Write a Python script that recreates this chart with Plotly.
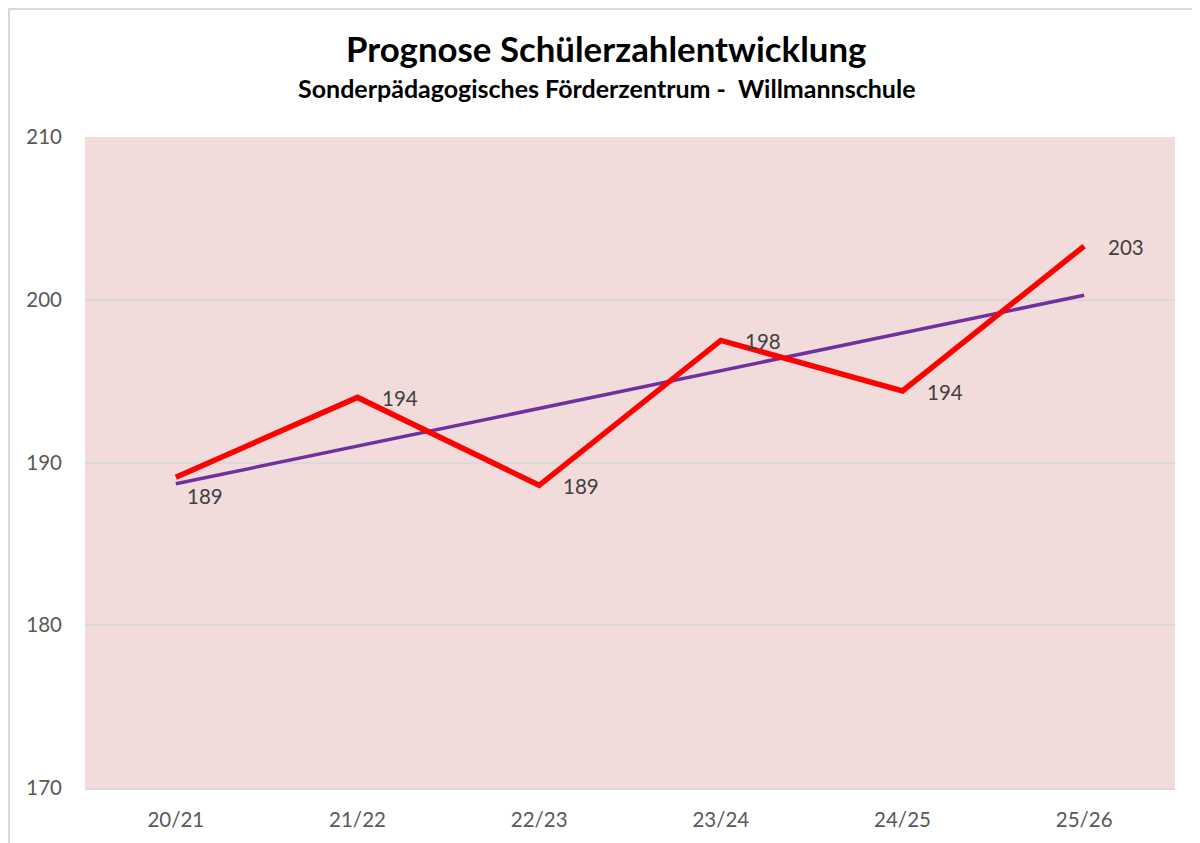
import numpy as np
import plotly.graph_objects as go

categories = ["20/21", "21/22", "22/23", "23/24", "24/25", "25/26"]
students = [189.1, 194.0, 188.6, 197.5, 194.4, 203.3]
labels = ["189", "194", "189", "198", "194", "203"]
y_ticks = [170, 180, 190, 200, 210]

x_idx = np.arange(len(categories))
slope, intercept = np.polyfit(x_idx, students, 1)
trend = [intercept + slope * i for i in x_idx]

FONT = "Lato, Open Sans, sans-serif"

# page offset (body margin) of 8px is compensated in margins
L, T, R, B = 77, 129, 33, 63
PW = 1200 - L - R
PH = 843 - T - B

fig = go.Figure()
fig.add_trace(go.Scatter(
    x=categories, y=trend, mode="lines",
    line=dict(color="#7030a0", width=3.5), hoverinfo="skip", showlegend=False,
))
fig.add_trace(go.Scatter(
    x=categories, y=students, mode="lines",
    line=dict(color="#ff0000", width=5.5), hoverinfo="skip", showlegend=False,
))

annotations = []
for i, (c, v, t) in enumerate(zip(categories, students, labels)):
    if i == 0:
        xs, ys = 9, -19
    else:
        xs, ys = 22, -1
    annotations.append(dict(
        x=c, y=v, text=t, showarrow=False, xanchor="left", yanchor="middle",
        xshift=xs, yshift=ys, font=dict(family=FONT, size=20.5, color="#404040"),
    ))

title_x = (598 - L) / PW
annotations.append(dict(
    xref="paper", yref="paper", x=title_x, y=1, yanchor="middle",
    xanchor="center", showarrow=False, yshift=89,
    text="<b>Prognose Schülerzahlentwicklung</b>",
    font=dict(family=FONT, size=34.8, color="#000000"),
))
annotations.append(dict(
    xref="paper", yref="paper", x=title_x, y=1, yanchor="middle",
    xanchor="center", showarrow=False, yshift=49,
    text="<b>Sonderpädagogisches Förderzentrum -  Willmannschule</b>",
    font=dict(family=FONT, size=25, color="#000000"),
))

fig.update_layout(
    width=1200, height=843,
    margin=dict(l=L, r=R, t=T, b=B),
    paper_bgcolor="#ffffff", plot_bgcolor="#f2dcdb",
    annotations=annotations,
    shapes=[dict(
        type="rect", xref="paper", yref="paper",
        x0=(1 - L) / PW, x1=(1230 - L) / PW,
        y0=-(900 - (843 - B)) / PH, y1=(843 - B - 1) / PH,
        line=dict(color="#d9d9d9", width=2), layer="below",
    )],
)
fig.update_xaxes(
    type="category", range=[-0.5, 5.5], showgrid=False,
    showline=True, linecolor="#d9d9d9", linewidth=2,
    ticks="", ticklabelstandoff=12,
    tickfont=dict(family=FONT, size=20.5, color="#595959"),
)
fig.update_yaxes(
    range=[170, 210], tickvals=y_ticks, showgrid=True, gridcolor="#d9d9d9",
    gridwidth=1.5, zeroline=False, showline=False, ticks="",
    ticklabelstandoff=22,
    tickfont=dict(family=FONT, size=20.5, color="#595959"),
)

fig.write_html("out.html")
